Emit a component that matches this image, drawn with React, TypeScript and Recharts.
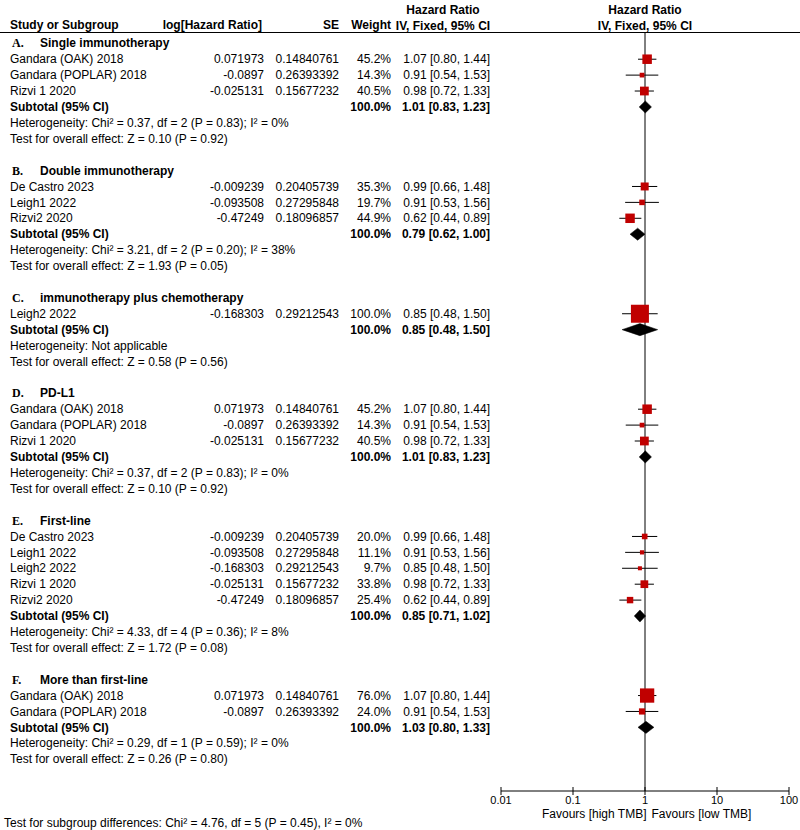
import { Customized, ReferenceLine, Scatter, ScatterChart, XAxis, YAxis } from "recharts";

const FONT = "'Liberation Sans', Arial, sans-serif";
const SERIF = "'Liberation Serif', 'Times New Roman', serif";

// subgroups
const groupLetters = ["A.", "B.", "C.", "D.", "E.", "F."];
const groupTitles = [
  "Single immunotherapy",
  "Double immunotherapy",
  "immunotherapy plus chemotherapy",
  "PD-L1",
  "First-line",
  "More than first-line",
];

// studies, one list per subgroup
const studyNames = [
  ["Gandara (OAK) 2018", "Gandara (POPLAR) 2018", "Rizvi 1 2020"],
  ["De Castro 2023", "Leigh1 2022", "Rizvi2 2020"],
  ["Leigh2 2022"],
  ["Gandara (OAK) 2018", "Gandara (POPLAR) 2018", "Rizvi 1 2020"],
  ["De Castro 2023", "Leigh1 2022", "Leigh2 2022", "Rizvi 1 2020", "Rizvi2 2020"],
  ["Gandara (OAK) 2018", "Gandara (POPLAR) 2018"],
];
const logHazardRatios = [
  [0.071973, -0.0897, -0.025131],
  [-0.009239, -0.093508, -0.47249],
  [-0.168303],
  [0.071973, -0.0897, -0.025131],
  [-0.009239, -0.093508, -0.168303, -0.025131, -0.47249],
  [0.071973, -0.0897],
];
const standardErrors = [
  [0.14840761, 0.26393392, 0.15677232],
  [0.20405739, 0.27295848, 0.18096857],
  [0.29212543],
  [0.14840761, 0.26393392, 0.15677232],
  [0.20405739, 0.27295848, 0.29212543, 0.15677232, 0.18096857],
  [0.14840761, 0.26393392],
];
const studyWeights = [
  [45.2, 14.3, 40.5],
  [35.3, 19.7, 44.9],
  [100.0],
  [45.2, 14.3, 40.5],
  [20.0, 11.1, 9.7, 33.8, 25.4],
  [76.0, 24.0],
];
const hazardRatios = [
  [1.07, 0.91, 0.98],
  [0.99, 0.91, 0.62],
  [0.85],
  [1.07, 0.91, 0.98],
  [0.99, 0.91, 0.85, 0.98, 0.62],
  [1.07, 0.91],
];
const ciLower = [
  [0.8, 0.54, 0.72],
  [0.66, 0.53, 0.44],
  [0.48],
  [0.8, 0.54, 0.72],
  [0.66, 0.53, 0.48, 0.72, 0.44],
  [0.8, 0.54],
];
const ciUpper = [
  [1.44, 1.53, 1.33],
  [1.48, 1.56, 0.89],
  [1.5],
  [1.44, 1.53, 1.33],
  [1.48, 1.56, 1.5, 1.33, 0.89],
  [1.44, 1.53],
];

// subtotals
const subtotalHR = [1.01, 0.79, 0.85, 1.01, 0.85, 1.03];
const subtotalLower = [0.83, 0.62, 0.48, 0.83, 0.71, 0.8];
const subtotalUpper = [1.23, 1.0, 1.5, 1.23, 1.02, 1.33];
const heterogeneityText = [
  "Heterogeneity: Chi² = 0.37, df = 2 (P = 0.83); I² = 0%",
  "Heterogeneity: Chi² = 3.21, df = 2 (P = 0.20); I² = 38%",
  "Heterogeneity: Not applicable",
  "Heterogeneity: Chi² = 0.37, df = 2 (P = 0.83); I² = 0%",
  "Heterogeneity: Chi² = 4.33, df = 4 (P = 0.36); I² = 8%",
  "Heterogeneity: Chi² = 0.29, df = 1 (P = 0.59); I² = 0%",
];
const overallEffectText = [
  "Test for overall effect: Z = 0.10 (P = 0.92)",
  "Test for overall effect: Z = 1.93 (P = 0.05)",
  "Test for overall effect: Z = 0.58 (P = 0.56)",
  "Test for overall effect: Z = 0.10 (P = 0.92)",
  "Test for overall effect: Z = 1.72 (P = 0.08)",
  "Test for overall effect: Z = 0.26 (P = 0.80)",
];
const subgroupDifferences = "Test for subgroup differences: Chi² = 4.76, df = 5 (P = 0.45), I² = 0%";

const axisTicks = [0.01, 0.1, 1, 10, 100];
const favoursLabels = ["Favours [high TMB]", "Favours [low TMB]"];

type TextRow = {
  x: number;
  y: number;
  kind: "group" | "study" | "subtotal" | "note";
  label: string;
  letter?: string;
  logHR?: number;
  se?: number;
  weight?: number;
  hr?: number;
  lo?: number;
  hi?: number;
};

const DIAMOND_HALF = 0.38;

const textRows: TextRow[] = [];
const squarePoints: { x: number; y: number; weight: number }[] = [];
const ciPoints: { x: number; y: number }[] = [];
const diamondPoints: { x: number; y: number }[] = [];

let line = 0;
groupTitles.forEach((title, g) => {
  textRows.push({ x: 1, y: line, kind: "group", label: title, letter: groupLetters[g] });
  line += 1;
  studyNames[g].forEach((name, i) => {
    textRows.push({
      x: 1,
      y: line,
      kind: "study",
      label: name,
      logHR: logHazardRatios[g][i],
      se: standardErrors[g][i],
      weight: studyWeights[g][i],
      hr: hazardRatios[g][i],
      lo: ciLower[g][i],
      hi: ciUpper[g][i],
    });
    squarePoints.push({ x: hazardRatios[g][i], y: line, weight: studyWeights[g][i] });
    ciPoints.push({ x: ciLower[g][i], y: line }, { x: ciUpper[g][i], y: line });
    line += 1;
  });
  textRows.push({
    x: 1,
    y: line,
    kind: "subtotal",
    label: "Subtotal (95% CI)",
    weight: 100,
    hr: subtotalHR[g],
    lo: subtotalLower[g],
    hi: subtotalUpper[g],
  });
  diamondPoints.push(
    { x: subtotalLower[g], y: line },
    { x: subtotalHR[g], y: line - DIAMOND_HALF },
    { x: subtotalUpper[g], y: line },
    { x: subtotalHR[g], y: line + DIAMOND_HALF },
  );
  line += 1;
  textRows.push({ x: 1, y: line, kind: "note", label: heterogeneityText[g] });
  line += 1;
  textRows.push({ x: 1, y: line, kind: "note", label: overallEffectText[g] });
  line += 2;
});

const fmtCI = (hr: number, lo: number, hi: number) =>
  `${hr.toFixed(2)} [${lo.toFixed(2)}, ${hi.toFixed(2)}]`;

function RowText(props: any) {
  const { cy, payload } = props;
  const r = payload as TextRow;
  const t = { y: cy, dy: "0.35em", fontFamily: FONT, fontSize: 12, fill: "#000" };
  if (r.kind === "group") {
    return (
      <g>
        <text x={12} {...t} fontFamily={SERIF} fontWeight="bold">
          {r.letter}
        </text>
        <text x={40} {...t} fontWeight="bold">
          {r.label}
        </text>
      </g>
    );
  }
  if (r.kind === "note") {
    return (
      <text x={10} {...t}>
        {r.label}
      </text>
    );
  }
  if (r.kind === "subtotal") {
    return (
      <g fontWeight="bold">
        <text x={10} {...t}>
          {r.label}
        </text>
        <text x={391} {...t} textAnchor="end">
          {`${r.weight!.toFixed(1)}%`}
        </text>
        <text x={490} {...t} textAnchor="end">
          {fmtCI(r.hr!, r.lo!, r.hi!)}
        </text>
      </g>
    );
  }
  return (
    <g>
      <text x={10} {...t}>
        {r.label}
      </text>
      <text x={264} {...t} textAnchor="end">
        {String(r.logHR)}
      </text>
      <text x={339} {...t} textAnchor="end">
        {String(r.se)}
      </text>
      <text x={391} {...t} textAnchor="end">
        {`${r.weight!.toFixed(1)}%`}
      </text>
      <text x={490} {...t} textAnchor="end">
        {fmtCI(r.hr!, r.lo!, r.hi!)}
      </text>
    </g>
  );
}

function StudySquare(props: any) {
  const { cx, cy, payload } = props;
  const side = 2.5 + 0.155 * payload.weight;
  return <rect x={cx - side / 2} y={cy - side / 2} width={side} height={side} fill="#c00000" />;
}

function CiSegments(props: any) {
  const pts = props.points ?? [];
  const segs = [];
  for (let i = 0; i + 1 < pts.length; i += 2) {
    segs.push(
      <line key={i} x1={pts[i].x} y1={pts[i].y} x2={pts[i + 1].x} y2={pts[i + 1].y} stroke="#000" strokeWidth={1} />,
    );
  }
  return <g>{segs}</g>;
}

function Diamonds(props: any) {
  const pts = props.points ?? [];
  const polys = [];
  for (let i = 0; i + 3 < pts.length; i += 4) {
    const d = pts.slice(i, i + 4).map((p: any) => `${p.x},${p.y}`).join(" ");
    polys.push(<polygon key={i} points={d} fill="#000" stroke="#000" strokeWidth={0.5} />);
  }
  return <g>{polys}</g>;
}

// tick mark crossing the axis line, label below
function AxisTick(props: any) {
  const { x, y, payload } = props;
  const axisY = y - 6;
  return (
    <g>
      <line x1={x} x2={x} y1={axisY - 4} y2={axisY + 4} stroke="#000" />
      <text x={x} y={y} dy="0.6em" textAnchor="middle" fontFamily={FONT} fontSize={11} fill="#000">
        {String(payload.value)}
      </text>
    </g>
  );
}

function FavoursLabels(props: any) {
  const vb = props.viewBox ?? { x: 501, y: 791, width: 288, height: 30 };
  const mid = vb.x + vb.width / 2;
  return (
    <g fontFamily={FONT} fontSize={12} fill="#000">
      <text x={mid + 1.5} y={vb.y + 22.5} dy="0.35em" textAnchor="end">
        {favoursLabels[0]}
      </text>
      <text x={mid + 6.5} y={vb.y + 22.5} dy="0.35em">
        {favoursLabels[1]}
      </text>
    </g>
  );
}

function HeaderAndFooter() {
  const t = { dy: "0.35em", fontFamily: FONT, fontSize: 12, fill: "#000", fontWeight: "bold" as const };
  return (
    <g>
      <text x={10} y={25} {...t}>
        Study or Subgroup
      </text>
      <text x={262} y={25} {...t} textAnchor="end">
        log[Hazard Ratio]
      </text>
      <text x={339} y={25} {...t} textAnchor="end">
        SE
      </text>
      <text x={391} y={25} {...t} textAnchor="end">
        Weight
      </text>
      <text x={443} y={10} {...t} textAnchor="middle">
        Hazard Ratio
      </text>
      <text x={443} y={26} {...t} textAnchor="middle">
        IV, Fixed, 95% CI
      </text>
      <text x={645} y={10} {...t} textAnchor="middle">
        Hazard Ratio
      </text>
      <text x={645} y={26} {...t} textAnchor="middle">
        IV, Fixed, 95% CI
      </text>
      <line x1={0} x2={800} y1={32.5} y2={32.5} stroke="#000" strokeWidth={1} />
      <text x={4} y={823} dy="0.35em" fontFamily={FONT} fontSize={12} fill="#000">
        {subgroupDifferences}
      </text>
    </g>
  );
}

const noDot = () => <g />;

export default function App() {
  return (
    <div style={{ position: "absolute", left: 0, top: 0, width: 800, height: 830, background: "#fff" }}>
      <ScatterChart width={800} height={830} margin={{ top: 32, right: 11, bottom: 9, left: 501 }}>
        <XAxis
          type="number"
          dataKey="x"
          scale="log"
          domain={[0.01, 100]}
          ticks={axisTicks}
          interval={0}
          height={30}
          axisLine={{ stroke: "#000" }}
          tickLine={false}
          tickSize={4}
          tickMargin={2}
          tick={AxisTick}
          label={{ content: FavoursLabels }}
        />
        <YAxis type="number" dataKey="y" domain={[-0.71, 47]} reversed hide />
        <ReferenceLine x={1} stroke="#000" strokeWidth={1} />
        <Scatter data={ciPoints} shape={noDot} line={CiSegments} isAnimationActive={false} />
        <Scatter data={squarePoints} shape={StudySquare} isAnimationActive={false} />
        <Scatter data={diamondPoints} shape={noDot} line={Diamonds} isAnimationActive={false} />
        <Scatter data={textRows} shape={RowText} isAnimationActive={false} />
        <Customized component={HeaderAndFooter} />
      </ScatterChart>
    </div>
  );
}
